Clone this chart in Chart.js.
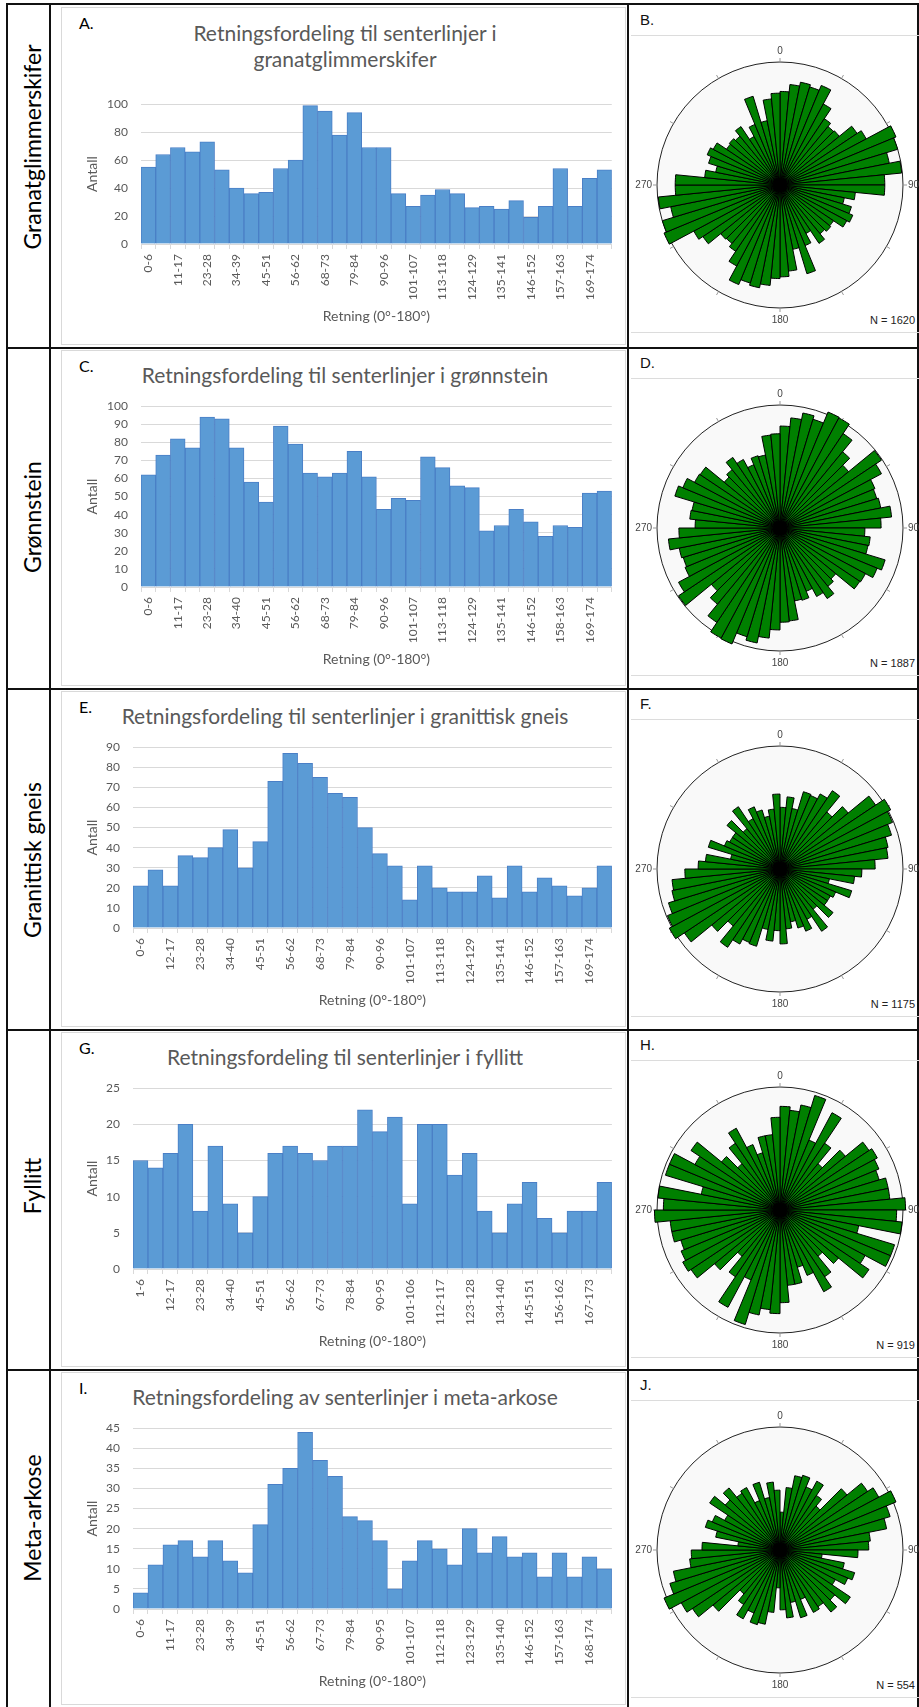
<!DOCTYPE html>
<html><head><meta charset="utf-8">
<script src="https://cdn.jsdelivr.net/npm/chart.js@4.4.1/dist/chart.umd.min.js"></script>
<style>
html,body{margin:0;padding:0;background:#fff;}
body{width:919px;height:1707px;position:relative;overflow:hidden;}
.hl{position:absolute;height:2px;background:#111;}
.vl{position:absolute;width:2px;background:#111;}
.gl{position:absolute;height:1px;background:#dcdcdc;}
.box{position:absolute;border:1px solid #d9d9d9;box-sizing:border-box;}
.rowlab{position:absolute;font-family:Lato,sans-serif;font-size:23px;color:#000;white-space:nowrap;transform:translate(-50%,-50%) rotate(-90deg);}
.plab{position:absolute;font-family:Lato,sans-serif;font-size:16px;color:#000;transform:translateY(-50%);}
.rlab{position:absolute;font-family:"Liberation Sans",Arial,sans-serif;font-size:15px;color:#111;transform:translateY(-50%);}
.title{position:absolute;font-family:Lato,sans-serif;font-size:21px;color:#595959;white-space:nowrap;transform:translate(-50%,-50%);}
.nlab{position:absolute;font-family:"Liberation Sans",Arial,sans-serif;font-size:11px;color:#222;white-space:nowrap;transform:translate(-100%,-50%);}
canvas{position:absolute;}
</style></head><body>
<script>
// ---------- DATA ----------
const rowNames = ["Granatglimmerskifer", "Grønnstein", "Granittisk gneis", "Fyllitt", "Meta-arkose"];
const histLetters = ["A.", "C.", "E.", "G.", "I."];
const roseLetters = ["B.", "D.", "F.", "H.", "J."];
const titles = [
  ["Retningsfordeling til senterlinjer i", "granatglimmerskifer"],
  ["Retningsfordeling til senterlinjer i grønnstein"],
  ["Retningsfordeling til senterlinjer i granittisk gneis"],
  ["Retningsfordeling til senterlinjer i fyllitt"],
  ["Retningsfordeling av senterlinjer i meta-arkose"]
];
const yTitle = "Antall";
const xTitle = "Retning (0°-180°)";

const ticksA = ["0-6","11-17","23-28","34-39","45-51","56-62","68-73","79-84","90-96","101-107","113-118","124-129","135-141","146-152","157-163","169-174"];
const countsA = [55,64,69,66,73,53,40,36,37,54,60,99,95,78,94,69,69,36,27,35,39,36,26,27,25,31,19,27,54,27,47,53];

const ticksC = ["0-6","11-17","23-28","34-40","45-51","56-62","68-73","79-84","90-96","101-107","113-118","124-129","135-141","146-152","158-163","169-174"];
const countsC = [62,73,82,77,94,93,77,58,47,89,79,63,61,63,75,61,43,49,48,72,66,56,55,31,34,43,36,28,34,33,52,53];

const ticksE = ["0-6","12-17","23-28","34-40","45-51","56-62","68-73","79-84","90-96","101-107","113-118","124-129","135-141","146-152","157-163","169-174"];
const countsE = [21,29,21,36,35,40,49,30,43,73,87,82,75,67,65,50,37,31,14,31,20,18,18,26,15,31,18,25,21,16,20,31];

const ticksG = ["1-6","12-17","23-28","34-40","45-51","56-62","67-73","78-84","90-95","101-106","112-117","123-128","134-140","145-151","156-162","167-173"];
const countsG = [15,14,16,20,8,17,9,5,10,16,17,16,15,17,17,22,19,21,9,20,20,13,16,8,5,9,12,7,5,8,8,12];

const ticksI = ["0-6","11-17","23-28","34-39","45-51","56-62","67-73","79-84","90-95","101-107","112-118","123-129","135-140","146-152","157-163","168-174"];
const countsI = [4,11,16,17,13,17,12,9,21,31,35,44,37,33,23,22,17,5,12,17,15,11,20,14,18,13,14,8,14,8,13,10];

const yMaxes = [100, 100, 90, 25, 45];
const ySteps = [20, 10, 10, 5, 5];
const roseNs = ["N = 1620", "N = 1887", "N = 1175", "N = 919", "N = 554"];
const roseAxisLabels = ["0", "90", "180", "270"];

const allTicks = [ticksA, ticksC, ticksE, ticksG, ticksI];
const allCounts = [countsA, countsC, countsE, countsG, countsI];

// ---------- LAYOUT ----------
const ROW_TOPS = [5, 348, 689, 1030, 1370];
const ROW_LINES = [347, 688, 1029, 1369];
const ROW_LABEL_Y = [147, 517, 860, 1186, 1518];
const PLOT_LEFT = [141, 141, 133, 133, 133];
const PLOT_TOP_REL = [99, 58, 58, 58, 58];
const PLOT_RIGHT = 612;

function el(cls, css, text) {
  const d = document.createElement('div');
  d.className = cls;
  Object.assign(d.style, css);
  if (text !== undefined) d.textContent = text;
  document.body.appendChild(d);
  return d;
}

// table lines
el('hl', {left:'6px', top:'3px', width:'913px'});
ROW_LINES.forEach(y => el('hl', {left:'6px', top:y+'px', width:'913px'}));
el('vl', {left:'6px', top:'3px', height:'1704px'});
el('vl', {left:'49px', top:'3px', height:'1704px'});
el('vl', {left:'627px', top:'3px', height:'1704px'});
el('vl', {left:'917px', top:'3px', height:'1704px'});

const rowBottoms = ROW_LINES.concat([1707]);

function makeHist(i) {
  const R = ROW_TOPS[i];
  el('box', {left:'61px', top:(R+2)+'px', width:'565px', height:(rowBottoms[i] - R - 4)+'px'});
  el('plab', {left:'79px', top:(R+17)+'px'}, histLetters[i]);
  const t = titles[i];
  if (t.length === 2) {
    el('title', {left:'345px', top:(R+27)+'px'}, t[0]);
    el('title', {left:'345px', top:(R+53)+'px'}, t[1]);
  } else {
    el('title', {left:'345px', top:(R+26)+'px'}, t[0]);
  }
  const cl = 60, cr = 624;
  const plotTop = R + PLOT_TOP_REL[i];
  const plotBottom = R + 239;
  const xTitleY = R + 311;
  const ct = plotTop - 20;
  const cb = xTitleY + 13;
  const c = document.createElement('canvas');
  c.width = cr - cl; c.height = cb - ct;
  c.style.left = cl + 'px'; c.style.top = ct + 'px';
  document.body.appendChild(c);
  const labels = allTicks[i].flatMap(tk => [tk, '']);
  const plotLeft = PLOT_LEFT[i];
  new Chart(c, {
    type: 'bar',
    data: { labels, datasets: [{ data: allCounts[i], backgroundColor: '#5B9BD5', borderColor: '#4A7FC6', borderWidth: 1, categoryPercentage: 1, barPercentage: 1 }] },
    options: {
      responsive: false, animation: false, devicePixelRatio: 1,
      layout: { padding: { top: 20, right: cr - PLOT_RIGHT, left: 0, bottom: 0 } },
      plugins: { legend: { display: false }, tooltip: { enabled: false } },
      scales: {
        x: {
          grid: { display: true, drawOnChartArea: false, drawTicks: true, tickLength: 5, color: '#d9d9d9', offset: true },
          border: { display: true, color: '#d9d9d9' },
          ticks: { autoSkip: false, minRotation: 90, maxRotation: 90, padding: 5, color: '#595959', font: { family: 'Lato', size: 12 } },
          title: { display: true, text: xTitle, color: '#595959', font: { family: 'Lato', size: 14 }, padding: { top: 0, bottom: 4 } },
          afterFit: sc => { sc.height = cb - plotBottom; }
        },
        y: {
          min: 0, max: yMaxes[i],
          ticks: { stepSize: ySteps[i], padding: 13, color: '#595959', font: { family: 'Lato', size: 12 } },
          grid: { color: '#d9d9d9', drawTicks: false },
          border: { display: false },
          title: { display: true, text: yTitle, color: '#595959', font: { family: 'Lato', size: 14 }, padding: { top: 92 - cl - 8.4, bottom: 0 } },
          afterFit: sc => { sc.width = plotLeft - cl; }
        }
      }
    }
  });
}

const roseDecor = {
  id: 'roseDecor',
  beforeDatasetsDraw(chart) {
    const s = chart.scales.r, ctx = chart.ctx;
    const cx = s.xCenter, cy = s.yCenter, r = s.drawingArea;
    ctx.save();
    ctx.beginPath(); ctx.arc(cx, cy, r, 0, Math.PI * 2);
    ctx.fillStyle = '#f9f9f9'; ctx.fill();
    ctx.lineWidth = 1; ctx.strokeStyle = '#222'; ctx.stroke();
    ctx.strokeStyle = '#999';
    for (let a = 0; a < 360; a += 30) {
      const rad = a * Math.PI / 180;
      ctx.beginPath();
      ctx.moveTo(cx + Math.sin(rad) * r, cy - Math.cos(rad) * r);
      ctx.lineTo(cx + Math.sin(rad) * (r + 4), cy - Math.cos(rad) * (r + 4));
      ctx.stroke();
    }
    ctx.fillStyle = '#444';
    ctx.font = '10px "Liberation Sans", Arial, sans-serif';
    ctx.textAlign = 'center'; ctx.textBaseline = 'middle';
    ctx.fillText(roseAxisLabels[0], cx, cy - r - 11);
    ctx.fillText(roseAxisLabels[2], cx, cy + r + 12);
    ctx.textAlign = 'left';
    ctx.fillText(roseAxisLabels[1], cx + r + 5, cy);
    ctx.textAlign = 'right';
    ctx.fillText(roseAxisLabels[3], cx - r - 5, cy);
    ctx.restore();
  },
  afterDatasetsDraw(chart) {
    const s = chart.scales.r, ctx = chart.ctx;
    ctx.save();
    ctx.beginPath(); ctx.arc(s.xCenter, s.yCenter, 7, 0, Math.PI * 2);
    ctx.fillStyle = '#000'; ctx.fill();
    ctx.restore();
  }
};

function makeRose(i) {
  const R = ROW_TOPS[i];
  el('rlab', {left:'640px', top:(R+14)+'px'}, roseLetters[i]);
  el('gl', {left:'631px', top:(R+30)+'px', width:'288px'});
  el('gl', {left:'631px', top:(R+327)+'px', width:'288px'});
  el('nlab', {left:'915px', top:(R+315)+'px'}, roseNs[i]);
  const counts = allCounts[i];
  const petals = counts.concat(counts).map(v => Math.sqrt(v));
  const c = document.createElement('canvas');
  const cl = 630, cw = 289, ch = 335;
  c.width = cw; c.height = ch;
  c.style.left = cl + 'px'; c.style.top = R + 'px';
  document.body.appendChild(c);
  const cx = 780, cyRel = 180, rad = 123;
  new Chart(c, {
    type: 'polarArea',
    data: { labels: petals.map(() => ''), datasets: [{ data: petals, backgroundColor: '#008000', borderColor: '#000', borderWidth: 1 }] },
    options: {
      responsive: false, animation: false, devicePixelRatio: 1,
      layout: { padding: { left: cx - rad - cl, right: cl + cw - (cx + rad), top: cyRel - rad, bottom: ch - (cyRel + rad) } },
      plugins: { legend: { display: false }, tooltip: { enabled: false } },
      scales: {
        r: {
          min: 0, max: Math.sqrt(Math.max(...counts)) * 0.98,
          startAngle: 0,
          ticks: { display: false },
          grid: { display: false },
          angleLines: { display: false },
          pointLabels: { display: false }
        }
      }
    },
    plugins: [roseDecor]
  });
}

for (let i = 0; i < 5; i++) {
  el('rowlab', {left:'32px', top:ROW_LABEL_Y[i]+'px'}, rowNames[i]);
  makeHist(i);
  makeRose(i);
}
</script>
</body></html>
